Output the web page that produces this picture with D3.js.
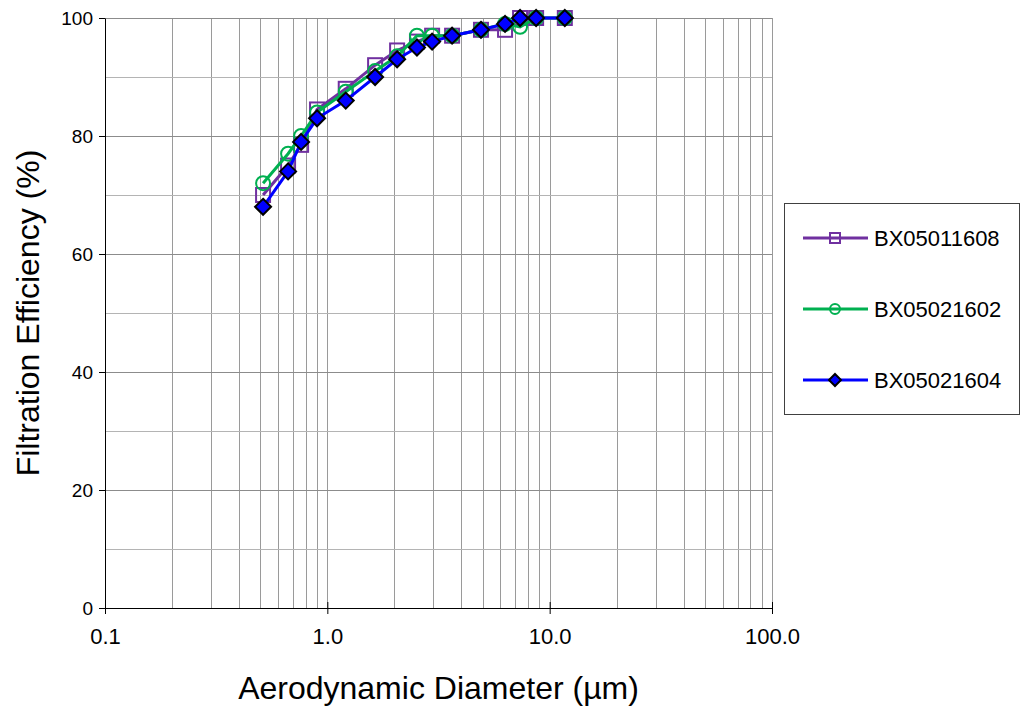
<!DOCTYPE html>
<html>
<head>
<meta charset="utf-8">
<script src="https://cdn.jsdelivr.net/npm/d3@7"></script>
<style>
  body { margin: 0; background: #fff; }
  svg text { font-family: "Liberation Sans", Arial, sans-serif; fill: #000; }
</style>
</head>
<body>
<div id="chart"></div>
<script>
var svgWidth = 1020;
var svgHeight = 709;
var margin = { top: 18, right: 248, bottom: 101, left: 105 };
var width = svgWidth - margin.left - margin.right;
var height = svgHeight - margin.top - margin.bottom;

// aerodynamic diameter bins (um)
var diameters = [0.514, 0.666, 0.762, 0.899, 1.21, 1.64, 2.06, 2.53, 2.96, 3.64, 4.91, 6.3, 7.36, 8.69, 11.7];
var seriesNames = ["BX05011608", "BX05021602", "BX05021604"];
var eff1608 = [70, 75, 78.5, 84.5, 88, 92, 94.5, 96, 97, 97, 98, 98, 100, 100, 100];
var eff1602 = [72, 77, 80, 84, 87.5, 91, 93.5, 97, 97, 97, 98, 99, 98.5, 100, 100];
var eff1604 = [68, 74, 79, 83, 86, 90, 93, 95, 96, 97, 98, 99, 100, 100, 100];
var xTicks = [0.1, 1, 10, 100];
var yTicks = [0, 20, 40, 60, 80, 100];

var colors = ["#7030a0", "#00b050", "#0000ff"];
var allSeries = [eff1608, eff1602, eff1604];

var svg = d3.select("#chart").append("svg")
    .attr("width", svgWidth)
    .attr("height", svgHeight);
var chart = svg.append("g")
    .attr("transform", "translate(" + margin.left + "," + margin.top + ")");

var x = d3.scaleLog().domain([0.1, 100]).range([0, width]);
var y = d3.scaleLinear().domain([0, 100]).range([height, 0]);

// vertical gridlines: 1..10 in each decade
var xGrid = [];
[0.1, 1, 10].forEach(function (d) {
    for (var k = 1; k <= 10; k++) xGrid.push(d * k);
});
chart.append("g").selectAll("line")
    .data(xGrid)
    .enter().append("line")
    .attr("x1", function (d) { return Math.round(x(d)) + 0.5; })
    .attr("x2", function (d) { return Math.round(x(d)) + 0.5; })
    .attr("y1", 0)
    .attr("y2", height)
    .attr("stroke", "#9a9a9a")
    .attr("stroke-width", 1);

// horizontal gridlines every 10
chart.append("g").selectAll("line")
    .data(d3.range(10, 101, 10))
    .enter().append("line")
    .attr("x1", 0)
    .attr("x2", width)
    .attr("y1", function (d) { return Math.round(y(d)) + 0.5; })
    .attr("y2", function (d) { return Math.round(y(d)) + 0.5; })
    .attr("stroke", function (d) { return d % 20 === 0 ? "#8c8c8c" : "#b4b4b4"; })
    .attr("stroke-width", 1);

// y axis
var yAxis = d3.axisLeft(y).tickValues(yTicks).tickSize(6).tickSizeOuter(0).tickFormat(d3.format("d"));
var gy = chart.append("g").call(yAxis);
gy.select(".domain").attr("stroke", "#000");
gy.selectAll(".tick line").attr("stroke", "#000");
gy.selectAll(".tick text").attr("x", -12).style("font-size", "19px")
    .style("font-family", "Liberation Sans, Arial, sans-serif");

// x axis
var xAxis = d3.axisBottom(x).tickValues(xTicks).tickSize(6).tickSizeOuter(0)
    .tickFormat(function (d) { return d < 1 ? "0.1" : d3.format(".1f")(d); });
var gx = chart.append("g").attr("transform", "translate(0," + height + ")").call(xAxis);
gx.select(".domain").attr("stroke", "#000");
gx.selectAll(".tick line").attr("stroke", "#000").attr("y1", -6);
gx.selectAll(".tick text").attr("y", 20).style("font-size", "22px")
    .style("font-family", "Liberation Sans, Arial, sans-serif");

// series
var line = d3.line()
    .x(function (d, i) { return x(diameters[i]); })
    .y(function (d) { return y(d); });

allSeries.forEach(function (vals, s) {
    chart.append("path")
        .datum(vals)
        .attr("d", line)
        .attr("fill", "none")
        .attr("stroke", colors[s])
        .attr("stroke-width", 3);
    var g = chart.append("g");
    vals.forEach(function (v, i) {
        drawMarker(g, s, x(diameters[i]), y(v));
    });
});

function drawMarker(g, s, cx, cy) {
    if (s === 0) {
        g.append("rect")
            .attr("x", cx - 7).attr("y", cy - 7)
            .attr("width", 14).attr("height", 14)
            .attr("fill", "none").attr("stroke", colors[0]).attr("stroke-width", 2);
    } else if (s === 1) {
        g.append("circle")
            .attr("cx", cx).attr("cy", cy).attr("r", 7)
            .attr("fill", "none").attr("stroke", colors[1]).attr("stroke-width", 2);
    } else {
        g.append("path")
            .attr("d", "M" + cx + "," + (cy - 8) + "L" + (cx + 8) + "," + cy + "L" + cx + "," + (cy + 8) + "L" + (cx - 8) + "," + cy + "Z")
            .attr("fill", colors[2]).attr("stroke", "#000").attr("stroke-width", 2);
    }
}

// axis titles
svg.append("text")
    .attr("transform", "translate(" + 39 + "," + (margin.top + height / 2) + ") rotate(-90)")
    .attr("text-anchor", "middle")
    .style("font-size", "32px")
    .text("Filtration Efficiency (%)");

svg.append("text")
    .attr("x", margin.left + width / 2)
    .attr("y", 699)
    .attr("text-anchor", "middle")
    .style("font-size", "32px")
    .text("Aerodynamic Diameter (µm)");

// legend
var legend = svg.append("g").attr("transform", "translate(784,203)");
legend.append("rect")
    .attr("x", 0.5).attr("y", 0.5)
    .attr("width", 235).attr("height", 211)
    .attr("fill", "#fff").attr("stroke", "#404040").attr("stroke-width", 1);

seriesNames.forEach(function (name, s) {
    var ly = 35 + s * 71;
    legend.append("line")
        .attr("x1", 19).attr("x2", 84)
        .attr("y1", ly).attr("y2", ly)
        .attr("stroke", colors[s]).attr("stroke-width", 3);
    var mg = legend.append("g");
    if (s === 0) {
        mg.append("rect").attr("x", 51 - 5).attr("y", ly - 5).attr("width", 10).attr("height", 10)
            .attr("fill", "none").attr("stroke", colors[0]).attr("stroke-width", 2);
    } else if (s === 1) {
        mg.append("circle").attr("cx", 51).attr("cy", ly).attr("r", 5)
            .attr("fill", "none").attr("stroke", colors[1]).attr("stroke-width", 2);
    } else {
        mg.append("path")
            .attr("d", "M51," + (ly - 6) + "L57," + ly + "L51," + (ly + 6) + "L45," + ly + "Z")
            .attr("fill", colors[2]).attr("stroke", "#000").attr("stroke-width", 2);
    }
    legend.append("text")
        .attr("x", 90).attr("y", ly)
        .attr("dy", "0.35em")
        .style("font-size", "22px")
        .text(name);
});
</script>
</body>
</html>
